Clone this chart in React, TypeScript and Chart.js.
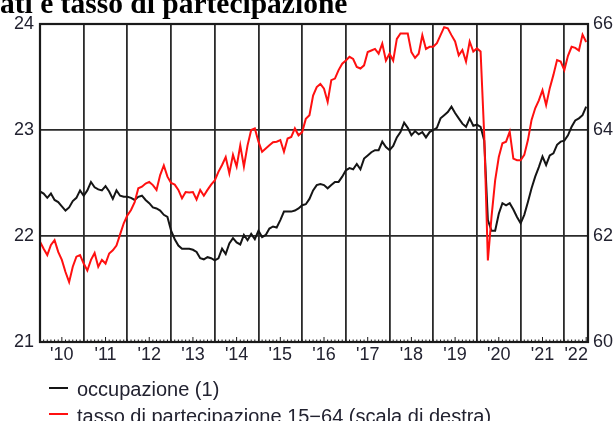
import React, { useEffect, useRef } from "react";
import { Chart, registerables } from "chart.js";

Chart.register(...registerables);

// Monthly data, Jan 2010 .. Jul 2022
const occupazione: number[] = [
  // 2010
  22.42, 22.40, 22.36, 22.40, 22.34, 22.32, 22.28, 22.24, 22.27, 22.33, 22.36, 22.43,
  // 2011
  22.38, 22.43, 22.51, 22.46, 22.44, 22.43, 22.47, 22.42, 22.35, 22.43, 22.38, 22.37,
  // 2012
  22.37, 22.36, 22.34, 22.37, 22.38, 22.34, 22.31, 22.27, 22.26, 22.24, 22.20, 22.18,
  // 2013
  22.05, 21.97, 21.91, 21.88, 21.88, 21.88, 21.87, 21.85, 21.79, 21.78, 21.80, 21.79,
  // 2014
  21.77, 21.79, 21.88, 21.83, 21.93, 21.98, 21.94, 21.92, 22.01, 21.96, 22.02, 21.97,
  // 2015
  22.05, 21.99, 22.01, 22.07, 22.09, 22.08, 22.15, 22.23, 22.23, 22.23, 22.24, 22.26,
  // 2016
  22.29, 22.30, 22.35, 22.43, 22.48, 22.49, 22.48, 22.45, 22.48, 22.51, 22.51, 22.56,
  // 2017
  22.62, 22.64, 22.63, 22.68, 22.63, 22.73, 22.76, 22.79, 22.81, 22.81, 22.89, 22.84,
  // 2018
  22.81, 22.85, 22.93, 22.98, 23.07, 23.02, 22.95, 22.99, 22.96, 22.98, 22.93, 22.98,
  // 2019
  23.00, 23.02, 23.11, 23.14, 23.17, 23.22, 23.16, 23.11, 23.06, 23.03, 23.11, 23.04,
  // 2020
  23.05, 23.03, 22.90, 22.15, 22.05, 22.05, 22.21, 22.31, 22.29, 22.31, 22.25, 22.18,
  // 2021
  22.12, 22.20, 22.32, 22.45, 22.56, 22.65, 22.75, 22.67, 22.76, 22.78, 22.86, 22.89,
  // 2022
  22.90, 22.95, 23.03, 23.09, 23.11, 23.14, 23.22,
];

const tassoPartecipazione: number[] = [
  // 2010
  61.89, 61.76, 61.64, 61.83, 61.92, 61.70, 61.55, 61.32, 61.13, 61.42, 61.61, 61.64,
  // 2011
  61.48, 61.35, 61.55, 61.68, 61.42, 61.55, 61.48, 61.67, 61.73, 61.82, 62.03, 62.24,
  // 2012
  62.39, 62.49, 62.64, 62.90, 62.93, 62.99, 63.02, 62.96, 62.87, 63.15, 63.33, 63.12,
  // 2013
  63.00, 62.97, 62.87, 62.71, 62.83, 62.82, 62.83, 62.69, 62.87, 62.76, 62.87, 62.97,
  // 2014
  63.05, 63.21, 63.34, 63.49, 63.18, 63.53, 63.31, 63.71, 63.31, 63.71, 64.00, 64.03,
  // 2015
  63.78, 63.59, 63.65, 63.71, 63.77, 63.78, 63.81, 63.59, 63.84, 63.87, 64.03, 63.90,
  // 2016
  63.96, 64.21, 64.28, 64.65, 64.81, 64.87, 64.78, 64.53, 64.94, 64.97, 65.13, 65.25,
  // 2017
  65.31, 65.38, 65.34, 65.19, 65.16, 65.22, 65.47, 65.50, 65.53, 65.44, 65.63, 65.31,
  // 2018
  65.44, 65.31, 65.72, 65.82, 65.82, 65.82, 65.47, 65.36, 65.44, 65.79, 65.53, 65.57,
  // 2019
  65.57, 65.64, 65.79, 65.94, 65.92, 65.79, 65.67, 65.41, 65.51, 65.29, 65.67, 65.48,
  // 2020
  65.54, 65.48, 63.90, 61.54, 62.36, 63.05, 63.49, 63.75, 63.78, 63.97, 63.46, 63.43,
  // 2021
  63.43, 63.53, 63.81, 64.19, 64.41, 64.56, 64.75, 64.47, 64.79, 65.04, 65.32, 65.29,
  // 2022
  65.13, 65.40, 65.57, 65.55, 65.50, 65.80, 65.66,
];

const yearLabels: string[] = [
  "'10", "'11", "'12", "'13", "'14", "'15", "'16", "'17", "'18", "'19", "'20", "'21", "'22",
];
const leftTicks: number[] = [21, 22, 23, 24];
const rightTicks: number[] = [60, 62, 64, 66];

const X_MAX = 150.5;
const FONT = "'Liberation Sans', Arial, sans-serif";
const TEXT = "#222230";

const framePlugin = {
  id: "frameAndMinorTicks",
  afterDatasetsDraw(chart: any) {
    const { ctx, chartArea } = chart;
    const xs = chart.scales.x;
    ctx.save();
    ctx.strokeStyle = "#1a1a1a";
    ctx.lineWidth = 1;
    for (let m = 0; m <= Math.floor(X_MAX); m++) {
      const px = xs.getPixelForValue(m);
      const h = m % 12 === 6 ? 5 : 2.5;
      ctx.beginPath();
      ctx.moveTo(px, chartArea.bottom);
      ctx.lineTo(px, chartArea.bottom - h);
      ctx.stroke();
    }
    ctx.lineWidth = 2.2;
    ctx.strokeStyle = "#1a1a1a";
    ctx.strokeRect(
      chartArea.left,
      chartArea.top,
      chartArea.right - chartArea.left,
      chartArea.bottom - chartArea.top
    );
    ctx.restore();
  },
};

function ChartCanvas() {
  const ref = useRef<HTMLCanvasElement | null>(null);
  useEffect(() => {
    if (!ref.current) return;
    const chart = new Chart(ref.current, {
      type: "line",
      data: {
        datasets: [
          {
            label: "tasso di partecipazione 15−64 (scala di destra)",
            data: tassoPartecipazione.map((v, i) => ({ x: i, y: v })),
            borderColor: "#ff1010",
            borderWidth: 2,
            pointRadius: 0,
            tension: 0,
            yAxisID: "y2",
            order: 0,
          },
          {
            label: "occupazione (1)",
            data: occupazione.map((v, i) => ({ x: i, y: v })),
            borderColor: "#151515",
            borderWidth: 2,
            pointRadius: 0,
            tension: 0,
            yAxisID: "y",
            order: 1,
          },
        ],
      },
      options: {
        animation: false,
        responsive: false,
        maintainAspectRatio: false,
        layout: { padding: { top: 24, left: 0, right: 0, bottom: 0 } },
        plugins: {
          legend: { display: false },
          tooltip: { enabled: false },
          title: { display: false },
        },
        scales: {
          x: {
            type: "linear",
            min: 0,
            max: X_MAX,
            afterBuildTicks: (scale: any) => {
              const t: any[] = [];
              for (let k = 0; k < yearLabels.length; k++) {
                t.push({ value: k * 12 });
                const mid = k < yearLabels.length - 1 ? k * 12 + 6 : (k * 12 + X_MAX) / 2;
                t.push({ value: mid });
              }
              scale.ticks = t;
            },
            afterFit: (scale: any) => {
              scale.height = 79;
            },
            border: { display: false },
            grid: {
              drawTicks: false,
              lineWidth: 1.8,
              color: (ctx: any) =>
                ctx.tick && ctx.tick.value % 12 === 0 ? "#2a2a2a" : "rgba(0,0,0,0)",
            },
            ticks: {
              autoSkip: false,
              maxRotation: 0,
              padding: 2,
              color: TEXT,
              font: { family: FONT, size: 18 },
              callback: (value: any) => {
                const v = Number(value);
                if (v % 12 === 0) return "";
                return yearLabels[Math.floor(v / 12)];
              },
            },
          },
          y: {
            position: "left",
            min: 21,
            max: 24,
            afterBuildTicks: (scale: any) => {
              scale.ticks = leftTicks.map((v) => ({ value: v }));
            },
            afterFit: (scale: any) => {
              scale.width = 40;
            },
            border: { display: false },
            grid: { drawTicks: false, color: "#2a2a2a", lineWidth: 1.8 },
            ticks: {
              padding: 6,
              color: TEXT,
              font: { family: FONT, size: 18 },
              callback: (v: any) => String(v),
            },
          },
          y2: {
            position: "right",
            min: 60,
            max: 66,
            afterBuildTicks: (scale: any) => {
              scale.ticks = rightTicks.map((v) => ({ value: v }));
            },
            afterFit: (scale: any) => {
              scale.width = 28;
            },
            border: { display: false },
            grid: { display: false, drawTicks: false },
            ticks: {
              padding: 5,
              color: TEXT,
              font: { family: FONT, size: 18 },
              callback: (v: any) => String(v),
            },
          },
        },
      },
      plugins: [framePlugin],
    } as any);
    return () => chart.destroy();
  }, []);
  return (
    <canvas
      ref={ref}
      width={616}
      height={421}
      style={{ position: "absolute", left: 0, top: 0, width: 616, height: 421 }}
    />
  );
}

export default function App() {
  return (
    <div
      style={{
        position: "fixed",
        left: 0,
        top: 0,
        width: 616,
        height: 421,
        overflow: "hidden",
        background: "#ffffff",
      }}
    >
      <ChartCanvas />
      <div
        style={{
          position: "absolute",
          left: 0,
          top: -11.4,
          fontFamily: "'Liberation Serif', 'Times New Roman', serif",
          fontWeight: "bold",
          fontSize: 29.5,
          lineHeight: "29.5px",
          whiteSpace: "nowrap",
          color: "#000",
        }}
      >
        ati e tasso di partecipazione
      </div>
      <div
        style={{
          position: "absolute",
          left: 49,
          top: 386.7,
          width: 19,
          height: 2,
          background: "#151515",
        }}
      />
      <div
        style={{
          position: "absolute",
          left: 77,
          top: 378.8,
          fontFamily: FONT,
          fontSize: 20,
          lineHeight: "20px",
          whiteSpace: "nowrap",
          color: TEXT,
        }}
      >
        occupazione (1)
      </div>
      <div
        style={{
          position: "absolute",
          left: 49,
          top: 413.3,
          width: 19,
          height: 2,
          background: "#ff1010",
        }}
      />
      <div
        style={{
          position: "absolute",
          left: 77,
          top: 405.6,
          fontFamily: FONT,
          fontSize: 20,
          lineHeight: "20px",
          whiteSpace: "nowrap",
          color: TEXT,
        }}
      >
        tasso di partecipazione 15−64 (scala di destra)
      </div>
    </div>
  );
}
